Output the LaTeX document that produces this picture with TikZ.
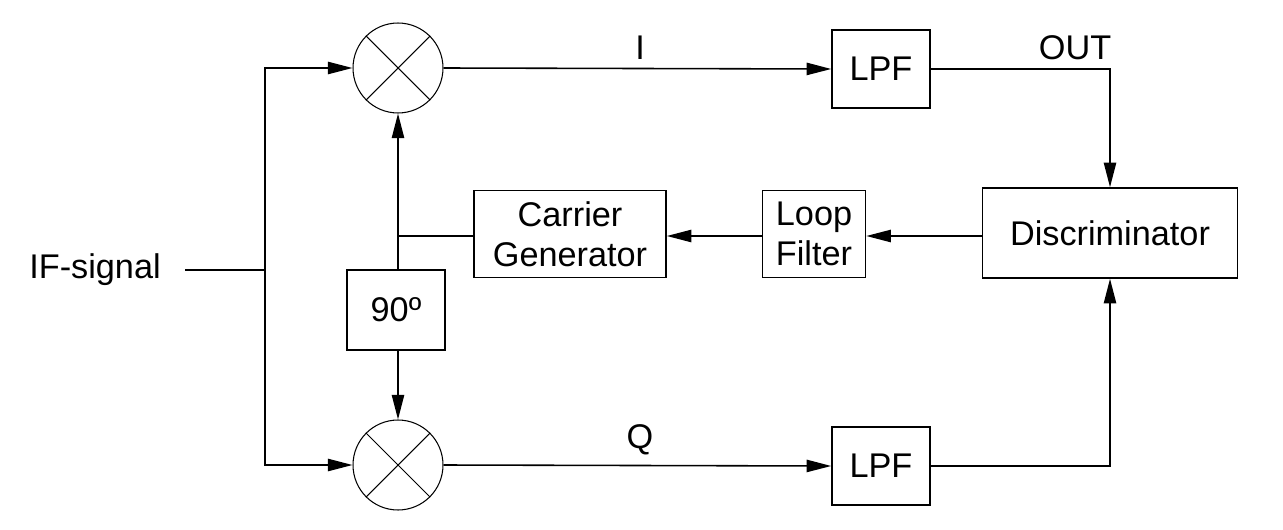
\documentclass[tikz,border=0pt]{standalone}
\usepackage{fontspec}
\setmainfont{Liberation Sans}
\usetikzlibrary{arrows.meta}
\begin{document}
\begin{tikzpicture}[x=0.02cm,y=-0.02cm,line width=0.9pt,
  box/.style={draw,inner sep=0pt,font=\fontsize{19.5}{23}\selectfont,align=center},
  lbl/.style={font=\fontsize{19.5}{23}\selectfont},
  mix/.style={draw,circle,minimum size=1.8cm,inner sep=0pt,line width=0.6pt},
  arr/.style={-{Triangle[length=14pt,width=7pt]}}]
\useasboundingbox (0,0) rectangle (1283,530);
\node[mix] (m1) at (398,68) {};
\node[mix] (m2) at (398,465) {};
\foreach \m in {m1,m2}{
 \draw[line width=0.6pt] (\m.north west) -- (\m.south east) (\m.north east) -- (\m.south west);}
\node[box,minimum width=1.96cm,minimum height=1.56cm] (l1) at (881,69) {LPF};
\node[box,minimum width=1.96cm,minimum height=1.56cm] (l2) at (881,466) {LPF};
\node[box,minimum width=5.1cm,minimum height=1.8cm] (d) at (1110,233) {Discriminator};
\node[box,minimum width=2.06cm,minimum height=1.74cm] (lf) at (814,234) {Loop\\Filter};
\node[box,minimum width=3.84cm,minimum height=1.74cm] (cg) at (570,234) {Carrier\\Generator};
\node[box,minimum width=1.96cm,minimum height=1.6cm] (p) at (396,310) {90º};
\node[lbl] (if) at (95,270) {IF-signal};
\node[lbl] at (640,48) {I};
\node[lbl] at (640,440) {Q};
\node[lbl] at (1075,48) {OUT};
\coordinate (s) at (265,270);
\coordinate (j) at (398,236);
\draw (185,270) -- (s);
\draw[arr] (s) |- (m1.west);
\draw[arr] (s) |- (m2.west);
\draw[arr] (m1.east) -- (l1.west);
\draw[arr] (m2.east) -- (l2.west);
\draw[arr] (l1.east) -| (d.north);
\draw[arr] (l2.east) -| (d.south);
\draw[arr] (d.west|-j) -- (lf.east|-j);
\draw[arr] (lf.west|-j) -- (cg.east|-j);
\draw (cg.west|-j) -- (j);
\draw[arr] (j) -- (m1.south);
\draw (j) -- (j|-p.north);
\draw[arr] (j|-p.south) -- (m2.north);
\end{tikzpicture}
\end{document}
